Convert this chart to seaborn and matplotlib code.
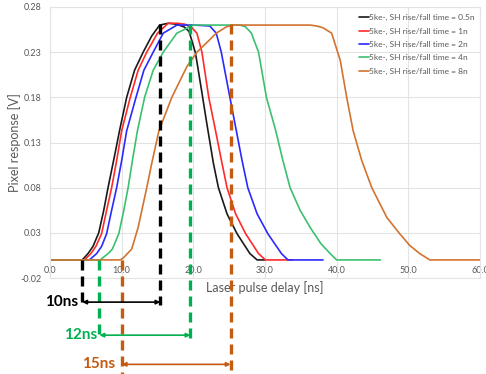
import numpy as np
import pandas as pd
import matplotlib
matplotlib.use("Agg")
import matplotlib.pyplot as plt
import seaborn as sns

# ---------------- data ----------------
series_labels = [
    "5ke-, SH rise/fall time = 0.5n",
    "5ke-, SH rise/fall time = 1n",
    "5ke-, SH rise/fall time = 2n",
    "5ke-, SH rise/fall time = 4n",
    "5ke-, SH rise/fall time = 8n",
]

x_05 = [0, 4.5, 5.3, 6.0, 6.8, 7.5, 8.1, 9.0, 9.7, 10.7, 11.8, 13.0, 14.2, 15.3, 16.5, 17.6,
        18.7, 19.4, 19.9, 20.3, 21.1, 21.9, 22.8, 23.5, 24.7, 26.1, 27.9, 28.9, 30.0]
y_05 = [0, 0, 0.007, 0.015, 0.03, 0.055, 0.08, 0.115, 0.143, 0.18, 0.21, 0.23, 0.248, 0.26, 0.262, 0.261,
        0.258, 0.253, 0.24, 0.229, 0.19, 0.15, 0.107, 0.08, 0.051, 0.029, 0.007, 0, 0]

x_1 = [0, 4.8, 5.7, 6.4, 7.2, 7.9, 8.6, 9.3, 10.0, 11.2, 12.3, 13.5, 15.0, 16.5, 17.7, 18.8,
       19.8, 20.5, 21.2, 22.15, 23.1, 24.0, 24.7, 25.9, 27.3, 29.1, 30.05, 33.8]
y_1 = [0, 0, 0.007, 0.015, 0.029, 0.055, 0.08, 0.11, 0.143, 0.18, 0.21, 0.23, 0.251, 0.262, 0.262, 0.261,
       0.257, 0.251, 0.23, 0.18, 0.143, 0.107, 0.08, 0.051, 0.029, 0.007, 0, 0]

x_2 = [0, 5.5, 6.5, 7.2, 7.9, 8.6, 9.3, 10.0, 10.7, 12.0, 13.1, 14.4, 15.8, 17.7, 20.0, 22.3,
       23.2, 23.9, 25.1, 26.0, 26.8, 27.6, 28.9, 30.4, 32.3, 33.2, 38.1]
y_2 = [0, 0, 0.007, 0.015, 0.029, 0.055, 0.08, 0.11, 0.143, 0.18, 0.21, 0.23, 0.251, 0.26, 0.26, 0.259,
       0.251, 0.23, 0.18, 0.143, 0.11, 0.08, 0.051, 0.029, 0.007, 0, 0]

x_4 = [0, 7.0, 8.1, 8.7, 9.6, 10.3, 10.9, 11.5, 12.2, 13.2, 14.4, 15.8, 17.7, 20.0, 26.5,
       27.3, 28.1, 29.1, 30.2, 31.5, 32.5, 33.5, 34.9, 36.3, 37.8, 39.1, 40.0, 46.1]
y_4 = [0, 0, 0.007, 0.012, 0.029, 0.055, 0.08, 0.11, 0.143, 0.18, 0.21, 0.23, 0.251, 0.26, 0.26,
       0.258, 0.251, 0.23, 0.18, 0.143, 0.11, 0.08, 0.055, 0.036, 0.018, 0.007, 0, 0]

x_8 = [0, 9.8, 10.2, 11.4, 12.3, 13.5, 14.2, 15.2, 17.0, 19.1, 20.5, 21.8, 23.2, 24.6, 25.5, 36.3,
       37.2, 38.1, 39.3, 40.5, 41.4, 42.3, 43.5, 44.9, 47.0, 48.8, 50.2, 51.6, 53.0, 60.0]
y_8 = [0, 0, 0.002, 0.012, 0.036, 0.08, 0.107, 0.143, 0.18, 0.214, 0.23, 0.24, 0.251, 0.258, 0.26, 0.26,
       0.259, 0.257, 0.251, 0.221, 0.18, 0.143, 0.11, 0.08, 0.047, 0.029, 0.016, 0.007, 0, 0]

# annotation spans (ns): start/end of the marked widths
span_start = [4.5, 6.9, 10.0]
span_end = [15.4, 19.6, 25.2]
span_labels = ["10ns", "12ns", "15ns"]

x_ticks = [0, 10, 20, 30, 40, 50, 60]
y_ticks = [-0.02, 0.03, 0.08, 0.13, 0.18, 0.23, 0.28]

# ---------------- style ----------------
line_colors = ["#1a1a1a", "#ff2a2a", "#2a2aff", "#3cc070", "#d2732f"]
span_colors = ["#000000", "#00b050", "#c55a11"]
gray = "#595959"

sns.set_theme(style="white")
plt.rcParams["font.family"] = ["Lato", "DejaVu Sans"]

fig = plt.figure(figsize=(4.86, 3.74), dpi=100)
ax = fig.add_axes([50 / 486, 1 - 278 / 374, 430 / 486, 271 / 374])

xs = [x_05, x_1, x_2, x_4, x_8]
ys = [y_05, y_1, y_2, y_4, y_8]
df = pd.concat(
    [pd.DataFrame({"x": x, "y": y, "series": lab}) for x, y, lab in zip(xs, ys, series_labels)],
    ignore_index=True,
)
sns.lineplot(data=df, x="x", y="y", hue="series", hue_order=series_labels,
             palette=line_colors, estimator=None, sort=False, lw=1.2, ax=ax)

ax.set_xlim(0, 60)
ax.set_ylim(-0.02, 0.28)
ax.set_xticks(x_ticks)
ax.set_xticklabels([f"{v:.1f}" for v in x_ticks])
ax.set_yticks(y_ticks)
ax.set_yticklabels([f"{v:.2f}" for v in y_ticks])
ax.tick_params(axis="both", length=0, labelsize=6.5, labelcolor=gray)
ax.tick_params(axis="x", pad=-8.5)
ax.tick_params(axis="y", pad=6)
ax.grid(True, color="#e3e3e3", lw=0.8)
for s in ax.spines.values():
    s.set_color("#e3e3e3")
    s.set_linewidth(0.8)

ax.set_xlabel("Laser pulse delay [ns]", fontsize=9, color=gray)
ax.set_ylabel("Pixel response [V]", fontsize=9, color=gray)
ax.xaxis.set_label_coords(0.5, -0.012)
ax.yaxis.set_label_coords(-0.068, 0.5)

ax.legend(loc="upper left", bbox_to_anchor=(0.712, 0.985), frameon=False, fontsize=6,
          handlelength=1.1, handletextpad=0.1, labelspacing=0.75, labelcolor=gray,
          borderaxespad=0)

# ---------------- span annotations ----------------
top_level = 0.261
bottom_levels = [-0.05, -0.087, -0.13]
arrow_levels = [-0.0467, -0.0833, -0.1156]
label_x = [3.97, 6.6, 9.1]
dash = (0, (3, 1.8))
for i in range(3):
    c = span_colors[i]
    ax.plot([span_start[i], span_start[i]], [0, bottom_levels[i]], color=c, lw=2.4,
            ls=dash, clip_on=False, zorder=5)
    ax.plot([span_end[i], span_end[i]], [top_level, bottom_levels[i]], color=c, lw=2.4,
            ls=dash, clip_on=False, zorder=5)
    ax.annotate("", xy=(span_end[i], arrow_levels[i]), xytext=(span_start[i], arrow_levels[i]),
                arrowprops=dict(arrowstyle="<|-|>", color=c, lw=1.2, mutation_scale=6,
                                shrinkA=0, shrinkB=0),
                annotation_clip=False, zorder=6)
    ax.text(label_x[i], arrow_levels[i], span_labels[i], color=c, fontsize=11,
            fontweight="bold", ha="right", va="center", clip_on=False)

fig.savefig("out.png", dpi=100)
